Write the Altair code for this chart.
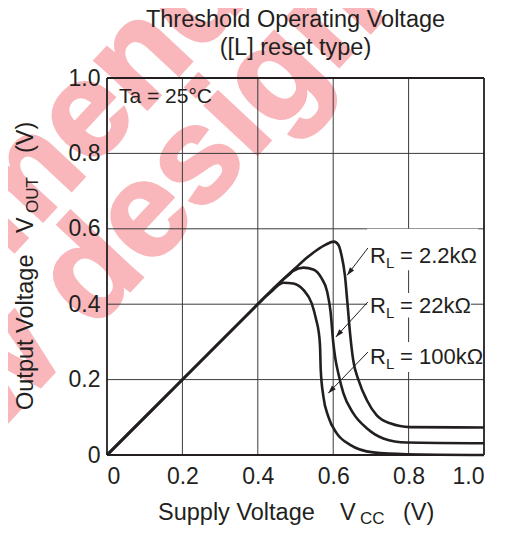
import altair as alt
import pandas as pd
import math

# ---------------- data ----------------
ticks = [0, 0.2, 0.4, 0.6, 0.8, 1.0]

x_22k_2 = [0, 0.2, 0.4, 0.42, 0.46, 0.5, 0.53, 0.556, 0.58, 0.602, 0.614, 0.622, 0.631, 0.638, 0.645, 0.653, 0.667, 0.689, 0.715, 0.751, 0.804, 1.0]
y_22k_2 = [0, 0.2, 0.4, 0.42, 0.459, 0.496, 0.523, 0.543, 0.558, 0.566, 0.557, 0.530, 0.477, 0.40, 0.32, 0.252, 0.199, 0.146, 0.106, 0.084, 0.074, 0.073]
x_22k = [0, 0.2, 0.4, 0.42, 0.46, 0.48, 0.494, 0.521, 0.547, 0.569, 0.584, 0.593, 0.600, 0.605, 0.614, 0.627, 0.653, 0.689, 0.733, 0.795, 1.0]
y_22k = [0, 0.2, 0.4, 0.42, 0.459, 0.476, 0.488, 0.497, 0.492, 0.469, 0.433, 0.38, 0.30, 0.26, 0.215, 0.164, 0.111, 0.071, 0.044, 0.033, 0.031]
x_100k = [0, 0.2, 0.4, 0.42, 0.44, 0.455, 0.468, 0.494, 0.521, 0.543, 0.556, 0.561, 0.565, 0.567, 0.574, 0.587, 0.609, 0.645, 0.706, 0.795, 1.0]
y_100k = [0, 0.2, 0.4, 0.42, 0.437, 0.451, 0.457, 0.455, 0.438, 0.402, 0.354, 0.33, 0.29, 0.225, 0.155, 0.102, 0.058, 0.027, 0.007, 0.002, 0.0]

label_texts = ["= 2.2kΩ", "= 22kΩ", "= 100kΩ"]
arrow_x1 = [0.692, 0.692, 0.692]
arrow_y1 = [0.549, 0.406, 0.273]
arrow_x2 = [0.637, 0.607, 0.587]
arrow_y2 = [0.477, 0.313, 0.164]

watermark_lines = ["not recommended", "for new design"]

INK = "#231f20"
FONT = "Liberation Sans"
W = 377
H = 377

rows = []
for name, xs_, ys_ in [("2.2k", x_22k_2, y_22k_2), ("22k", x_22k, y_22k), ("100k", x_100k, y_100k)]:
    for i, (a, b) in enumerate(zip(xs_, ys_)):
        rows.append({"rl": name, "x": a, "y": b, "o": i})
curves = pd.DataFrame(rows)

xs = alt.Scale(domain=[0, 1], nice=False, zero=False)
ys = alt.Scale(domain=[0, 1], nice=False, zero=False)
lab = "datum.value == 0 ? '0' : format(datum.value, '.1f')"
xax = alt.Axis(values=ticks, labelExpr=lab, grid=False, domain=False, ticks=False, zindex=1,
               labelFontSize=23, labelFont=FONT, labelColor=INK, labelPadding=10, title="")
yax = alt.Axis(values=ticks, labelExpr=lab, grid=False, domain=False, ticks=False, zindex=1,
               labelFontSize=23, labelFont=FONT, labelColor=INK, labelPadding=7, title="")

X = lambda f="x": alt.X(f + ":Q", scale=xs, axis=xax)
Y = lambda f="y": alt.Y(f + ":Q", scale=ys, axis=yax)

# ---------------- watermark ----------------
wm = pd.DataFrame({"t": watermark_lines, "px": [254, 282], "py": [-198, -65]})
watermark = alt.Chart(wm).mark_text(font=FONT, fontWeight="bold", fontSize=135, color="#f9b7bb",
                                    stroke="#f9b7bb", strokeWidth=3,
                                    angle=313, align="right", baseline="alphabetic").encode(
    x=alt.X("px:Q", scale=None), y=alt.Y("py:Q", scale=None), text="t:N")

# ---------------- grid ----------------
grid_df = pd.DataFrame({"v": ticks})
inner = grid_df[(grid_df.v > 0) & (grid_df.v < 1)]
outer = grid_df[(grid_df.v == 0) | (grid_df.v == 1)]
vgrid = alt.Chart(inner).mark_rule(color="#3a3a3a", strokeWidth=1).encode(x=X("v"))
hgrid = alt.Chart(inner).mark_rule(color="#3a3a3a", strokeWidth=1).encode(y=Y("v"))
vbord = alt.Chart(outer).mark_rule(color=INK, strokeWidth=1.8).encode(x=X("v"))
hbord = alt.Chart(outer).mark_rule(color=INK, strokeWidth=1.8).encode(y=Y("v"))

box = pd.DataFrame({"x1": [0.69, 0.69, 0.69], "x2": [0.985, 0.965, 0.995],
                    "y1": [0.49, 0.365, 0.22], "y2": [0.60, 0.43, 0.30]})
boxes = alt.Chart(box).mark_rect(color="white").encode(x=X("x1"), x2="x2", y=Y("y1"), y2="y2")

# ---------------- curves ----------------
lines = alt.Chart(curves).mark_line(color=INK, strokeWidth=2.6, interpolate="monotone").encode(
    x=X(), y=Y(), detail="rl:N", order="o:Q")

# ---------------- arrows ----------------
ang = []
for a1, b1, a2, b2 in zip(arrow_x1, arrow_y1, arrow_x2, arrow_y2):
    dx = (a2 - a1) * W
    dy = -(b2 - b1) * H
    ang.append(math.degrees(math.atan2(dx, -dy)) % 360)
arr = pd.DataFrame({"x1": arrow_x1, "y1": arrow_y1, "x2": arrow_x2, "y2": arrow_y2, "ang": ang})
arrow_lines = alt.Chart(arr).mark_rule(color=INK, strokeWidth=1).encode(x=X("x1"), y=Y("y1"), x2="x2", y2="y2")
arrow_heads = alt.Chart(arr).mark_point(shape="M0,0L0.33,1L-0.33,1Z", filled=True, color=INK,
                                        size=256, opacity=1).encode(
    x=X("x2"), y=Y("y2"), angle=alt.Angle("ang:Q", scale=None))

# ---------------- labels ----------------
lbl = pd.DataFrame({"t": label_texts, "by": [185, 235, 286]})
R = alt.Chart(lbl).mark_text(font=FONT, fontSize=22, color=INK, align="left", baseline="alphabetic").encode(
    x=alt.value(263), y=alt.Y("by:Q", scale=None), text=alt.value("R"))
Lsub = alt.Chart(lbl).mark_text(font=FONT, fontSize=15, color=INK, align="left", baseline="alphabetic",
                                dx=16, dy=5).encode(
    x=alt.value(263), y=alt.Y("by:Q", scale=None), text=alt.value("L"))
rest = alt.Chart(lbl).mark_text(font=FONT, fontSize=22, color=INK, align="left", baseline="alphabetic",
                                dx=30).encode(
    x=alt.value(263), y=alt.Y("by:Q", scale=None), text="t:N")

def txt(t, x, y, size=23, align="left", angle=0, font=FONT):
    return alt.Chart(pd.DataFrame({"t": [t]})).mark_text(
        font=font, fontSize=size, color=INK, align=align, baseline="alphabetic", angle=angle
    ).encode(x=alt.value(x), y=alt.value(y), text="t:N")

title1 = txt("Threshold Operating Voltage", 188.5, -51, 23.5, "center")
title2 = txt("([L] reset type)", 188.5, -23, 23.5, "center")
ta = txt("Ta = 25°C", 12, 25, 21)

xt1 = txt("Supply Voltage", 51, 442, 23.5)
xt2 = txt("V", 233, 442, 23.5)
xt3 = txt("CC", 253, 446, 17)
xt4 = txt("(V)", 296, 442, 23.5)

yt1 = txt("Output Voltage", -74, 332, 23.5, angle=270)
yt2 = txt("V", -74, 155, 23.5, angle=270)
yt3 = txt("OUT", -69, 135, 17, angle=270)
yt4 = txt("(V)", -74, 75, 23.5, angle=270)

chart = alt.layer(
    watermark, vgrid, hgrid, boxes, lines, vbord, hbord, arrow_lines, arrow_heads,
    R, Lsub, rest, title1, title2, ta, xt1, xt2, xt3, xt4, yt1, yt2, yt3, yt4
).properties(
    width=W, height=H,
    autosize=alt.AutoSizeParams(type="none"),
    padding={"left": 99, "top": 70, "right": 14, "bottom": 70},
).configure_view(stroke=None)

chart.save("out.html", embed_options={"renderer": "svg", "actions": False})
